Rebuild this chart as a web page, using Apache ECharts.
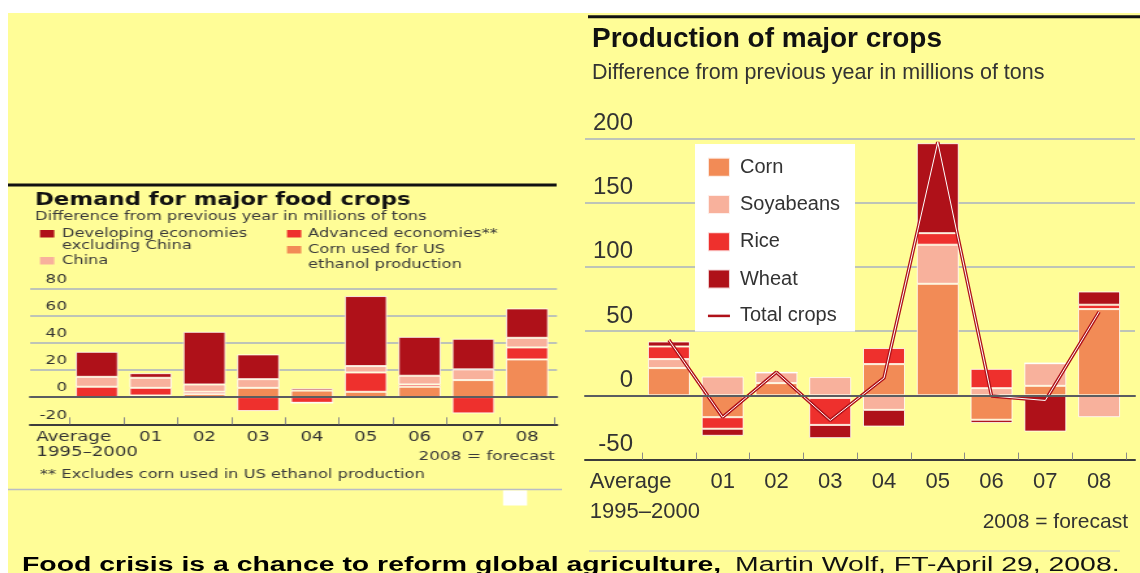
<!DOCTYPE html>
<html>
<head>
<meta charset="utf-8">
<script src="https://cdn.jsdelivr.net/npm/echarts@6/dist/echarts.min.js"></script>
<style>
  html, body { margin: 0; padding: 0; background: #fff; }
  #main { position: absolute; left: 0; top: 0; width: 1140px; height: 573px; }
  /* the demand panel is a horizontally stretched clipping, so stretch its canvas too */
  #demand { position: absolute; left: 8px; top: 180px; width: 426px; height: 330px;
            transform: scaleX(1.3); transform-origin: 0 0; }
</style>
</head>
<body>
<div id="main"></div>
<div id="demand"></div>
<script>
  // categories shared by both panels
  const years = ['Average\n1995–2000', '01', '02', '03', '04', '05', '06', '07', '08']

  // demand for major food crops (millions of tons, change on previous year)
  const demandNames = ['Corn used for US\nethanol production', 'Advanced economies**', 'China', 'Developing economies\nexcluding China']
  const demandCorn = [0, 1.2, 2.2, 6.8, 4.8, 3.9, 7.6, 12.5, 27.7]
  const demandAdvanced = [7.6, 5.6, 1.7, -10.3, -4.2, 14.2, 1.7, -12, 8.8]
  const demandChina = [7.3, 7.4, 5.4, 6.4, 0, 4.7, 6.4, 7.9, 7.1]
  const demandDeveloping = [18.4, 3.4, 38.7, 18.2, 1.6, 51.5, 28.6, 22.5, 21.6]
  const demandTicks = [-20, 0, 20, 40, 60, 80]

  // production of major crops
  const prodNames = ['Corn', 'Soyabeans', 'Rice', 'Wheat', 'Total crops']
  const prodCorn = [21.2, -17, 9.5, -2, 24.3, 86.8, -19, 7.4, 67.1]
  const prodSoy = [7, 14.6, 8.3, 14.2, -11.3, 30.4, 5.6, 17.6, -17]
  const prodRice = [9.8, -9, 0, -21, 12.5, 9, 15, 0, 3.4]
  const prodWheat = [3.9, -5.5, 0, -10.3, -13, 70, -2.5, -28.2, 10.3]
  const prodTotal = [43, -17, 18, -19.5, 13.5, 197, -0.5, -4, 65]
  const prodTicks = [-50, 0, 50, 100, 150, 200]

  const yellow = '#FFFD97'
  const cDark = '#AF1119', cRed = '#EE302D', cPink = '#F8B19C', cOrange = '#F28B56'
  const gridCol = '#A9B1C2'
  const lib = '"Liberation Sans", Arial, sans-serif'
  const dv = '"DejaVu Sans", Verdana, sans-serif'

  // first label is two lines, left aligned; the spacer token shifts the block left
  function yearLabel(v, i) {
    if (i !== 0) return v
    const p = v.split('\n')
    return '{a|' + p[0] + '}\n{a|' + p[1] + '}{p| }'
  }

  function stackBar(name, data, color, stack, width) {
    return {
      name: name, type: 'bar', stack: stack, data: data,
      xAxisIndex: 2, yAxisIndex: 1, barWidth: width,
      itemStyle: { color: color, borderColor: 'rgba(255,255,255,0.8)', borderWidth: 1 }
    }
  }

  function axesFor(ticks, opt) {
    return {
      xAxis: [
        { gridIndex: 0, type: 'value', min: 0, max: 1, position: 'bottom', z: 10,
          axisLine: { show: true, onZero: true, lineStyle: { color: '#5a5d60', width: 2 } },
          axisTick: { show: false }, axisLabel: { show: false }, splitLine: { show: false } },
        { gridIndex: 0, type: 'value', min: 0, max: 1, position: 'bottom',
          axisLine: { show: true, onZero: false, lineStyle: { color: '#3c3c3c', width: 2 } },
          axisTick: { show: false }, axisLabel: { show: false }, splitLine: { show: false } },
        { gridIndex: 1, type: 'category', data: years, position: 'bottom',
          axisLine: { show: false, onZero: false },
          axisTick: { show: true, inside: true, length: 7, lineStyle: { color: '#8a8a8a' } },
          axisLabel: {
            interval: 0, margin: opt.catMargin, fontFamily: opt.font, fontSize: opt.catSize,
            lineHeight: opt.catLine, color: '#333', formatter: yearLabel,
            rich: {
              a: { align: 'left', fontFamily: opt.font, fontSize: opt.catSize, lineHeight: opt.catLine, color: '#333' },
              p: { width: opt.pad, fontSize: opt.catSize, lineHeight: opt.catLine }
            }
          } }
      ],
      yAxis: [
        { gridIndex: 0, type: 'value', min: ticks[0], max: ticks[ticks.length - 1], interval: ticks[1] - ticks[0],
          axisLine: { show: false }, axisTick: { show: false },
          splitLine: { show: true, lineStyle: { color: gridCol, width: 1.5 } },
          axisLabel: { inside: true, align: 'right', margin: opt.yMargin, verticalAlign: 'bottom',
            padding: [0, 0, opt.yLift, 0], fontFamily: opt.font, fontSize: opt.ySize, color: '#333' } },
        { gridIndex: 1, type: 'value', min: ticks[0], max: ticks[ticks.length - 1], interval: ticks[1] - ticks[0], show: false }
      ]
    }
  }

  // ---------- production panel + page ----------
  const prodAxes = axesFor(prodTicks, { font: lib, catSize: 22, catLine: 30, catMargin: 7, pad: 48, yMargin: 48, yLift: 3, ySize: 24 })
  const main = echarts.init(document.getElementById('main'))
  main.setOption({
    backgroundColor: yellow,
    animation: false,
    grid: [
      { left: 585, right: 5, top: 138.3, bottom: 113.4, outerBoundsMode: 'none' },
      { left: 642, right: 14, top: 138.3, bottom: 113.4, outerBoundsMode: 'none' }
    ],
    xAxis: prodAxes.xAxis,
    yAxis: prodAxes.yAxis,
    legend: {
      orient: 'vertical', left: 695, top: 144, padding: [12.7, 15, 5.7, 11.7],
      backgroundColor: '#fff', itemWidth: 22, itemHeight: 19, itemGap: 16.3, selectedMode: false,
      textStyle: { fontFamily: lib, fontSize: 20, color: '#333', padding: [0, 0, 0, 5] },
      data: prodNames.map(function (n, i) {
        return i < 4 ? { name: n, icon: 'rect' }
          : { name: n, itemStyle: { opacity: 0, color: 'rgba(0,0,0,0)', borderWidth: 0 }, lineStyle: { width: 2.5 } }
      })
    },
    series: [
      stackBar(prodNames[0], prodCorn, cOrange, 'prod', '78%'),
      stackBar(prodNames[1], prodSoy, cPink, 'prod', '78%'),
      stackBar(prodNames[2], prodRice, cRed, 'prod', '78%'),
      stackBar(prodNames[3], prodWheat, cDark, 'prod', '78%'),
      { name: prodNames[4], type: 'line', data: prodTotal, xAxisIndex: 2, yAxisIndex: 1, symbol: 'none', z: 5,
        lineStyle: { color: cDark, width: 3.5 }, itemStyle: { color: cDark } },
      { name: 'core', type: 'line', data: prodTotal, xAxisIndex: 2, yAxisIndex: 1, symbol: 'none', z: 6, silent: true,
        lineStyle: { color: '#fff', width: 1 } }
    ],
    graphic: [
      { type: 'rect', shape: { x: 0, y: 0, width: 1140, height: 13 }, style: { fill: '#fff' } },
      { type: 'rect', shape: { x: 0, y: 0, width: 8, height: 573 }, style: { fill: '#fff' } },
      { type: 'rect', shape: { x: 588, y: 15.2, width: 552, height: 3 }, style: { fill: '#111' } },
      { type: 'text', x: 592, y: 39.5, style: { text: 'Production of major crops', font: 'bold 28px ' + lib, fill: '#111', verticalAlign: 'middle' } },
      { type: 'text', x: 592, y: 73, style: { text: 'Difference from previous year in millions of tons', font: '21.5px ' + lib, fill: '#333', verticalAlign: 'middle' } },
      { type: 'text', x: 1128, y: 522, style: { text: '2008 = forecast', font: '21px ' + lib, fill: '#333', align: 'right', verticalAlign: 'middle' } },
      { type: 'line', shape: { x1: 589, y1: 551, x2: 1120, y2: 551 }, style: { stroke: '#C9CCD0', lineWidth: 1 } },
      // caption is a wide (stretched) face in the source
      { type: 'text', x: 22, y: 565, scaleX: 1.42, style: { text: 'Food crisis is a chance to reform global agriculture,', font: 'bold 20px ' + lib, fill: '#000', verticalAlign: 'middle' } },
      { type: 'text', x: 735, y: 565, scaleX: 1.42, style: { text: 'Martin Wolf, FT-April 29, 2008.', font: '20px ' + lib, fill: '#111', verticalAlign: 'middle' } }
    ]
  })

  // ---------- demand panel (local coordinates, stretched 1.3x by css) ----------
  const demandColors = [cOrange, cRed, cPink, cDark]
  // legend boxes: [swatch x, swatch y, text x, first line centre, line height]
  const demandLegendPos = [[214.6, 66, 230.8, 70, 15], [214.6, 50, 230.8, 54, 12], [24.6, 77, 41.5, 80.7, 12], [24.6, 50, 41.5, 54, 12]]
  const demandLegend = []
  demandNames.forEach(function (n, i) {
    const p = demandLegendPos[i]
    demandLegend.push({ type: 'rect', shape: { x: p[0], y: p[1], width: 11, height: 7.5 }, style: { fill: demandColors[i] } })
    demandLegend.push({ type: 'text', x: p[2], y: p[3] - p[4] / 2, style: { text: n, font: '12.5px ' + dv, lineHeight: p[4], fill: '#3a3a3a', verticalAlign: 'top' } })
  })

  const demandAxes = axesFor(demandTicks, { font: dv, catSize: 14, catLine: 15, catMargin: 6, pad: 15, yMargin: 28.4, yLift: 2.5, ySize: 13 })
  const demand = echarts.init(document.getElementById('demand'))
  demand.setOption({
    backgroundColor: 'transparent',
    animation: false,
    grid: [
      { left: 17, right: 3.7, top: 108.3, bottom: 85.7, outerBoundsMode: 'none' },
      { left: 47.7, right: 6, top: 108.3, bottom: 85.7, outerBoundsMode: 'none' }
    ],
    xAxis: demandAxes.xAxis,
    yAxis: demandAxes.yAxis,
    series: [
      stackBar(demandNames[0], demandCorn, cOrange, 'dem', '79%'),
      stackBar(demandNames[1], demandAdvanced, cRed, 'dem', '79%'),
      stackBar(demandNames[2], demandChina, cPink, 'dem', '79%'),
      stackBar(demandNames[3], demandDeveloping, cDark, 'dem', '79%')
    ],
    graphic: [
      { type: 'rect', shape: { x: 0, y: 3.4, width: 422, height: 3 }, style: { fill: '#111' } },
      { type: 'text', x: 20.8, y: 20, style: { text: 'Demand for major food crops', font: 'bold 17.5px ' + dv, fill: '#111', verticalAlign: 'middle' } },
      { type: 'text', x: 20.8, y: 36.7, style: { text: 'Difference from previous year in millions of tons', font: '12.5px ' + dv, fill: '#3a3a3a', verticalAlign: 'middle' } },
      { type: 'text', x: 420.6, y: 277, style: { text: '2008 = forecast', font: '13px ' + dv, fill: '#3a3a3a', align: 'right', verticalAlign: 'middle' } },
      { type: 'text', x: 24.6, y: 295, style: { text: '** Excludes corn used in US ethanol production', font: '12.5px ' + dv, fill: '#3a3a3a', verticalAlign: 'middle' } },
      { type: 'line', shape: { x1: 0, y1: 309.5, x2: 426, y2: 309.5 }, style: { stroke: '#B9BDC6', lineWidth: 1.5 } },
      { type: 'rect', shape: { x: 380.8, y: 310.5, width: 18.5, height: 15 }, style: { fill: '#fff' } }
    ].concat(demandLegend)
  })
</script>
</body>
</html>
